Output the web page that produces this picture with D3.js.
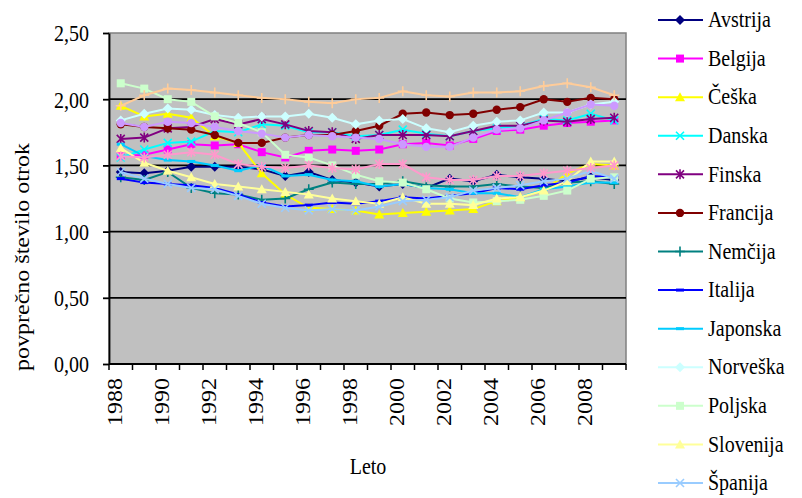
<!DOCTYPE html>
<html>
<head>
<meta charset="utf-8">
<script src="https://cdn.jsdelivr.net/npm/d3@7"></script>
<style>
  body { margin: 0; background: #fff; }
  svg text { font-family: "Liberation Serif", "Times New Roman", serif; fill: #000; }
</style>
</head>
<body>
<div class="line-chart-container"></div>
<script>
// leta (kategorije na osi x)
const years = [1988, 1989, 1990, 1991, 1992, 1993, 1994, 1995, 1996, 1997, 1998,
  1999, 2000, 2001, 2002, 2003, 2004, 2005, 2006, 2007, 2008, 2009];
// oznake na osi x (vsako drugo leto) in osi y
const xTickLabels = [1988, 1990, 1992, 1994, 1996, 1998, 2000, 2002, 2004, 2006, 2008];
const yTicks = [0, 0.5, 1, 1.5, 2, 2.5];

// povprečno število otrok, odčitano s slike
const avstrija = [1.45, 1.44, 1.46, 1.49, 1.49, 1.49, 1.47, 1.42, 1.45, 1.39, 1.37, 1.34, 1.36, 1.33, 1.40, 1.38, 1.43, 1.41, 1.40, 1.38, 1.41, 1.39];
const belgija = [1.57, 1.58, 1.62, 1.66, 1.65, 1.66, 1.60, 1.56, 1.61, 1.62, 1.61, 1.62, 1.66, 1.67, 1.65, 1.70, 1.76, 1.77, 1.80, 1.82, 1.83, 1.84];
const ceska = [1.95, 1.87, 1.89, 1.86, 1.72, 1.67, 1.44, 1.28, 1.18, 1.17, 1.16, 1.13, 1.14, 1.15, 1.16, 1.17, 1.23, 1.26, 1.31, 1.44, 1.51, 1.50];
const danska = [1.56, 1.62, 1.67, 1.68, 1.76, 1.75, 1.81, 1.80, 1.75, 1.75, 1.72, 1.73, 1.77, 1.74, 1.72, 1.76, 1.78, 1.80, 1.85, 1.84, 1.89, 1.84];
const finska = [1.70, 1.71, 1.78, 1.79, 1.85, 1.81, 1.85, 1.81, 1.76, 1.75, 1.70, 1.73, 1.73, 1.73, 1.72, 1.76, 1.80, 1.80, 1.84, 1.83, 1.85, 1.86];
const francija = [1.81, 1.79, 1.78, 1.77, 1.73, 1.67, 1.67, 1.71, 1.73, 1.73, 1.76, 1.80, 1.89, 1.90, 1.88, 1.89, 1.92, 1.94, 2.00, 1.98, 2.01, 2.00];
const nemcija = [1.41, 1.39, 1.45, 1.33, 1.29, 1.28, 1.24, 1.25, 1.32, 1.37, 1.36, 1.36, 1.38, 1.35, 1.34, 1.34, 1.36, 1.34, 1.33, 1.37, 1.38, 1.36];
const italija = [1.40, 1.37, 1.36, 1.35, 1.33, 1.28, 1.22, 1.19, 1.20, 1.22, 1.21, 1.23, 1.26, 1.25, 1.27, 1.29, 1.33, 1.32, 1.35, 1.37, 1.42, 1.41];
const japonska = [1.66, 1.57, 1.54, 1.53, 1.50, 1.46, 1.50, 1.42, 1.43, 1.39, 1.38, 1.34, 1.36, 1.33, 1.32, 1.29, 1.29, 1.26, 1.32, 1.34, 1.37, 1.37];
const norveska = [1.84, 1.89, 1.93, 1.92, 1.88, 1.86, 1.87, 1.87, 1.89, 1.86, 1.81, 1.84, 1.85, 1.78, 1.75, 1.80, 1.83, 1.84, 1.90, 1.90, 1.96, 1.98];
const poljska = [2.12, 2.08, 2.00, 1.98, 1.87, 1.82, 1.75, 1.58, 1.56, 1.50, 1.43, 1.38, 1.37, 1.32, 1.25, 1.22, 1.23, 1.24, 1.27, 1.31, 1.40, 1.41];
const slovenija = [1.63, 1.52, 1.46, 1.41, 1.36, 1.34, 1.32, 1.30, 1.28, 1.25, 1.23, 1.21, 1.26, 1.21, 1.21, 1.20, 1.25, 1.26, 1.31, 1.38, 1.53, 1.53];
const spanija = [1.45, 1.40, 1.36, 1.33, 1.32, 1.27, 1.21, 1.18, 1.16, 1.17, 1.16, 1.19, 1.23, 1.24, 1.26, 1.31, 1.33, 1.35, 1.38, 1.40, 1.46, 1.40];
const svica = [1.57, 1.56, 1.58, 1.60, 1.58, 1.51, 1.49, 1.48, 1.50, 1.48, 1.47, 1.51, 1.51, 1.41, 1.39, 1.39, 1.42, 1.42, 1.44, 1.46, 1.48, 1.50];
const britanija = [1.82, 1.79, 1.83, 1.82, 1.79, 1.76, 1.74, 1.71, 1.73, 1.72, 1.71, 1.70, 1.66, 1.64, 1.64, 1.71, 1.77, 1.78, 1.84, 1.90, 1.96, 1.95];
const zda = [1.95, 2.03, 2.08, 2.07, 2.05, 2.03, 2.01, 2.00, 1.98, 1.97, 2.00, 2.01, 2.06, 2.03, 2.02, 2.05, 2.05, 2.06, 2.10, 2.12, 2.09, 2.03];

// serije v vrstnem redu kot v Excelu (barve in oznake iz privzete palete)
const series = [
  { name: 'Avstrija', values: avstrija, color: '#000080', marker: 'diamond' },
  { name: 'Belgija', values: belgija, color: '#FF00FF', marker: 'square' },
  { name: 'Češka', values: ceska, color: '#FFFF00', marker: 'triangle' },
  { name: 'Danska', values: danska, color: '#00FFFF', marker: 'x' },
  { name: 'Finska', values: finska, color: '#800080', marker: 'star' },
  { name: 'Francija', values: francija, color: '#800000', marker: 'circle' },
  { name: 'Nemčija', values: nemcija, color: '#008080', marker: 'plus' },
  { name: 'Italija', values: italija, color: '#0000FF', marker: 'dash' },
  { name: 'Japonska', values: japonska, color: '#00CCFF', marker: 'dash' },
  { name: 'Norveška', values: norveska, color: '#CCFFFF', marker: 'diamond' },
  { name: 'Poljska', values: poljska, color: '#CCFFCC', marker: 'square' },
  { name: 'Slovenija', values: slovenija, color: '#FFFF99', marker: 'triangle' },
  { name: 'Španija', values: spanija, color: '#99CCFF', marker: 'x' },
  { name: 'Švica', values: svica, color: '#FF99CC', marker: 'star' },
  { name: 'Velika Britanija', values: britanija, color: '#CC99FF', marker: 'circle' },
  { name: 'ZDA', values: zda, color: '#FFCC99', marker: 'plus' },
];

// Excel-ove oznake točk
function drawMarker(g, type, color) {
  if (type === 'diamond') g.append('path').attr('d', 'M0,-5L5,0L0,5L-5,0Z').attr('fill', color);
  else if (type === 'square') g.append('rect').attr('x', -4).attr('y', -4).attr('width', 8).attr('height', 8).attr('fill', color);
  else if (type === 'triangle') g.append('path').attr('d', 'M0,-5L5,4L-5,4Z').attr('fill', color);
  else if (type === 'circle') g.append('circle').attr('r', 4.2).attr('fill', color);
  else if (type === 'dash') g.append('rect').attr('x', -4).attr('y', -1.5).attr('width', 8).attr('height', 3).attr('fill', color);
  else {
    let d = '';
    if (type === 'x' || type === 'star') d += 'M-4,-4L4,4M-4,4L4,-4';
    if (type === 'star') d += 'M0,-5L0,5';
    if (type === 'plus') d += 'M-5,0L5,0M0,-5L0,5';
    g.append('path').attr('d', d).attr('stroke', color).attr('stroke-width', 1.6).attr('fill', 'none');
  }
}

// besedilo je na sliki raztegnjeno navpično
const stretch = 1.2;
function addText(parent, x, y, str, anchor, rotate, dy) {
  return parent.append('text')
    .attr('transform', `translate(${x},${y}) scale(1,${stretch})` + (rotate ? ` rotate(${rotate})` : ''))
    .attr('text-anchor', anchor)
    .attr('dy', dy || '0.35em')
    .style('font-size', '20px')
    .text(str);
}

function setupCanvas() {
  const svg_width = 802;
  const svg_height = 498;
  const plot = { left: 109, top: 33, right: 626, bottom: 364 };

  const svg = d3.select('.line-chart-container').append('svg')
    .attr('width', svg_width).attr('height', svg_height);

  const xScale = d3.scaleBand().domain(years).range([plot.left, plot.right]);
  const xCenter = d => xScale(d) + xScale.bandwidth() / 2;
  const yScale = d3.scaleLinear().domain([0, 2.5]).range([plot.bottom, plot.top]);
  const comma = d3.formatLocale({ decimal: ',', thousands: '.', grouping: [3], currency: ['', ''] }).format('.2f');

  // siva risalna površina
  svg.append('rect')
    .attr('x', plot.left).attr('y', plot.top)
    .attr('width', plot.right - plot.left).attr('height', plot.bottom - plot.top)
    .attr('fill', '#C0C0C0').attr('stroke', '#808080').attr('stroke-width', 1.5);

  // črne mrežne črte
  svg.append('g').selectAll('line')
    .data(yTicks.filter(t => t > 0 && t < 2.5))
    .enter().append('line')
    .attr('x1', plot.left).attr('x2', plot.right)
    .attr('y1', d => yScale(d)).attr('y2', d => yScale(d))
    .attr('stroke', '#000').attr('stroke-width', 1.8);

  // os y
  const yAxis = d3.axisLeft(yScale).tickValues(yTicks).tickSizeInner(6).tickSizeOuter(0).tickFormat('');
  svg.append('g').attr('transform', `translate(${plot.left},0)`).call(yAxis)
    .call(g => g.selectAll('line, path').attr('stroke', '#000').attr('stroke-width', 1.8));
  yTicks.forEach(t => addText(svg, plot.left - 20, yScale(t), comma(t), 'end'));

  // os x - kljukice med kategorijami
  const xAxisG = svg.append('g');
  xAxisG.append('line')
    .attr('x1', plot.left).attr('x2', plot.right)
    .attr('y1', plot.bottom).attr('y2', plot.bottom)
    .attr('stroke', '#000').attr('stroke-width', 1.8);
  xAxisG.selectAll('.tick')
    .data(years.concat(['end']))
    .enter().append('line')
    .attr('x1', d => d === 'end' ? plot.right : xScale(d))
    .attr('x2', d => d === 'end' ? plot.right : xScale(d))
    .attr('y1', plot.bottom).attr('y2', plot.bottom + 6)
    .attr('stroke', '#000').attr('stroke-width', 1.5);
  xTickLabels.forEach(yr => addText(svg, xCenter(yr) - 6, plot.bottom + 14, yr, 'end', -90));

  // naslova osi
  addText(svg, 368, 466, 'Leto', 'middle');
  addText(svg, 22, 257, 'povprečno število otrok', 'middle', -90);

  // črte in oznake
  const line = d3.line().x((d, i) => xCenter(years[i])).y(d => yScale(d));
  series.forEach(s => {
    const g = svg.append('g').attr('class', 'series');
    g.append('path').datum(s.values)
      .attr('d', line).attr('fill', 'none')
      .attr('stroke', s.color).attr('stroke-width', 2);
    s.values.forEach((v, i) => {
      const m = g.append('g').attr('transform', `translate(${xCenter(years[i])},${yScale(v)})`);
      drawMarker(m, s.marker, s.color);
    });
  });

  // legenda - na izvirniku se vidi le prvih 13 vrstic, ostale so odrezane
  const legendY = d3.scaleLinear().domain([0, 12]).range([20, 483]);
  series.filter((s, i) => legendY(i) < svg_height - 10).forEach((s, i) => {
    const y = legendY(i);
    svg.append('line').attr('x1', 658).attr('x2', 703).attr('y1', y).attr('y2', y)
      .attr('stroke', s.color).attr('stroke-width', 2);
    drawMarker(svg.append('g').attr('transform', `translate(680,${y})`), s.marker, s.color);
    addText(svg, 708, y, s.name, 'start', null, '0.3em');
  });
}

setupCanvas();
</script>
</body>
</html>
